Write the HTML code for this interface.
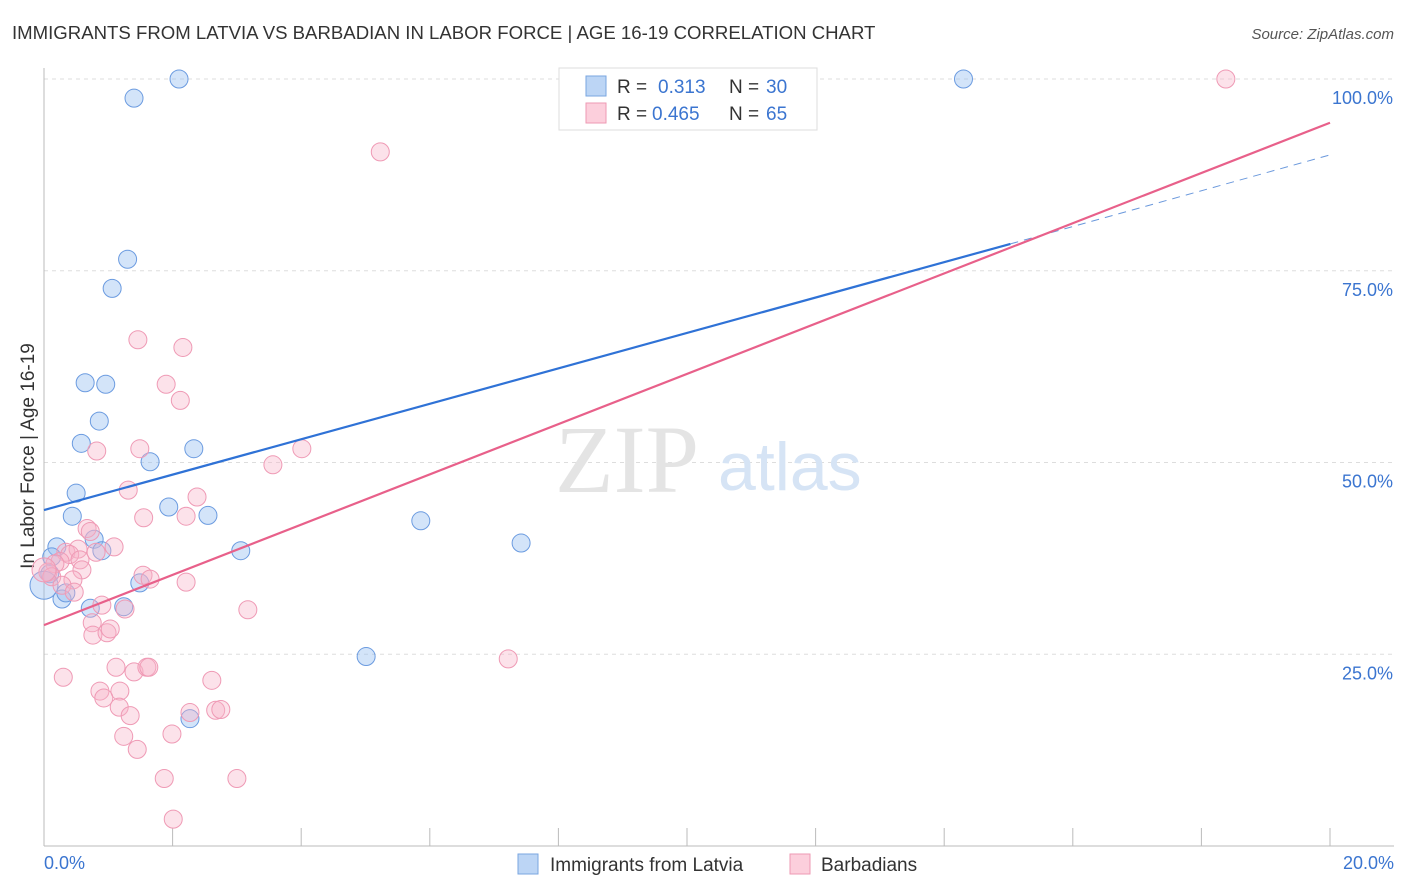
<!DOCTYPE html>
<html><head><meta charset="utf-8"><style>
body{margin:0;background:#fff;font-family:"Liberation Sans",sans-serif;}
svg{display:block}
</style></head><body>
<svg id="chart" width="1406" height="892" xmlns="http://www.w3.org/2000/svg">
<text x="12" y="39" font-size="18.6" fill="#333">IMMIGRANTS FROM LATVIA VS BARBADIAN IN LABOR FORCE | AGE 16-19 CORRELATION CHART</text>
<text x="1394" y="39" font-size="15" fill="#555" font-style="italic" text-anchor="end">Source: ZipAtlas.com</text>
<g id="grid"></g>
<text x="555" y="492" font-size="96" fill="#e4e4e4" font-family="Liberation Serif,serif">ZIP</text>
<text x="718" y="490" font-size="68" fill="#d6e4f5">atlas</text>
<line x1="44" y1="68" x2="44" y2="846" stroke="#bbb"/>
<line x1="44" y1="846" x2="1394" y2="846" stroke="#bbb"/>
<g id="xticks"></g>
<g id="yticks"></g>
<text x="44" y="869" font-size="18" fill="#3b75d0">0.0%</text>
<text x="1394" y="869" font-size="18" fill="#3b75d0" text-anchor="end">20.0%</text>
<text transform="translate(34,456) rotate(-90)" font-size="19" fill="#333" text-anchor="middle">In Labor Force | Age 16-19</text>
<g id="pts"></g>
<g id="lines"></g>
<g>
<rect x="559" y="68" width="258" height="62" fill="#fff" stroke="#ddd"/>
<rect x="586" y="76" width="20" height="20" fill="#bcd5f5" stroke="#7aa6e0"/>
<text x="617" y="93" font-size="19" fill="#333">R = </text><text x="658" y="93" font-size="19" fill="#3b75d0">0.313</text>
<text x="729" y="93" font-size="19" fill="#333">N = </text><text x="766" y="93" font-size="19" fill="#3b75d0">30</text>
<rect x="586" y="103" width="20" height="20" fill="#fccfdc" stroke="#ee9ab3"/>
<text x="617" y="120" font-size="19" fill="#333">R = </text><text x="652" y="120" font-size="19" fill="#3b75d0">0.465</text>
<text x="729" y="120" font-size="19" fill="#333">N = </text><text x="766" y="120" font-size="19" fill="#3b75d0">65</text>
</g>
<g>
<rect x="518" y="854" width="20" height="20" fill="#bcd5f5" stroke="#7aa6e0"/>
<text x="550" y="871" font-size="19" fill="#333">Immigrants from Latvia</text>
<rect x="790" y="854" width="20" height="20" fill="#fccfdc" stroke="#ee9ab3"/>
<text x="821" y="871" font-size="19" fill="#333">Barbadians</text>
</g>
</svg>
<script>
const blueX=[2.1,14.3,1.4,1.3,1.06,0.64,0.96,0.86,0.58,1.65,2.33,0.5,1.94,0.44,2.55,0.78,0.9,3.06,0.2,0.12,0.09,1.49,0.28,0.34,0.72,1.24,5.86,7.42,5.01,2.27,0.0];
const blueY=[100,100,97.5,76.5,72.7,60.4,60.2,55.4,52.5,50.1,51.8,46.0,44.2,43.0,43.1,40.0,38.5,38.5,39.0,37.7,35.5,34.3,32.2,33.0,31.0,31.2,42.4,39.5,24.7,16.6,34.0];
const pinkX=[18.38,5.23,1.46,2.16,1.9,2.12,1.49,0.82,4.01,3.56,1.31,2.38,1.55,2.21,0.67,0.72,1.09,0.34,0.53,0.4,0.81,0.56,0.59,0.25,0.17,0.06,0.12,0.45,0.28,0.47,1.54,1.65,2.21,0.9,1.26,0.75,0.76,0.98,1.03,3.17,7.22,0.3,1.12,1.4,1.6,1.63,2.61,0.87,1.18,0.93,1.17,1.34,2.67,2.75,2.27,1.24,1.45,1.99,1.87,3.0,2.01,0.0];
const pinkY=[100,90.5,66.0,65.0,60.2,58.1,51.8,51.5,51.8,49.7,46.4,45.5,42.8,43.0,41.4,41.0,39.0,38.3,38.7,38.0,38.3,37.3,36.0,37.1,36.8,35.7,35.1,34.7,34.0,33.1,35.3,34.8,34.4,31.4,30.9,29.1,27.5,27.8,28.3,30.8,24.4,22.0,23.3,22.7,23.3,23.3,21.6,20.2,20.2,19.3,18.1,17.0,17.7,17.8,17.4,14.3,12.6,14.6,8.8,8.8,3.5,36.0];
const blueLine=[[0,43.8],[15.03,78.5]];
const blueDash=[[15.03,78.5],[20,90.1]];
const pinkLine=[[0,28.8],[20,94.3]];
const yTicks=[25,50,75,100];
const yTickLabels=["25.0%","50.0%","75.0%","100.0%"];
const xTicks=[2,4,6,8,10,12,14,16,18,20];
</script>
<script>
const NS="http://www.w3.org/2000/svg";
const sx=v=>44+v/20*1286, sy=v=>846-v/100*767;
function mk(t,a,p){const e=document.createElementNS(NS,t);for(const k in a)e.setAttribute(k,a[k]);p.appendChild(e);return e;}
const grid=document.getElementById('grid'),yt=document.getElementById('yticks'),xt=document.getElementById('xticks');
yTicks.forEach((v,i)=>{
 const l=mk('line',{x1:44,x2:1394,y1:sy(v),y2:sy(v),stroke:'#ddd','stroke-dasharray':'4,4'},grid);
 
 
 const t=mk('text',{x:1393,y:sy(v)+25,'font-size':18,fill:'#3b75d0','text-anchor':'end'},yt);
 t.textContent=yTickLabels[i];
 
 
});
xTicks.forEach(v=>{
 const l=mk('line',{x1:sx(v),x2:sx(v),y1:828,y2:846,stroke:'#bbb'},xt);
 
 
});
const pts=document.getElementById('pts');
blueX.forEach((x,i)=>{
 const c=mk('circle',{cx:sx(x),cy:sy(blueY[i]),r:i==blueX.length-1?14:9,fill:'rgba(150,190,240,0.42)',stroke:'#6b9be0','stroke-width':1},pts);
 
 
});
pinkX.forEach((x,i)=>{
 const c=mk('circle',{cx:sx(x),cy:sy(pinkY[i]),r:i==pinkX.length-1?12:9,fill:'rgba(248,180,200,0.38)',stroke:'#ef9ab5','stroke-width':1},pts);
 
 
});
const lines=document.getElementById('lines');
const b=mk('line',{x1:sx(blueLine[0][0]),y1:sy(blueLine[0][1]),x2:sx(blueLine[1][0]),y2:sy(blueLine[1][1]),stroke:'#2f72d6','stroke-width':2.2},lines);


const bd=mk('line',{x1:sx(blueDash[0][0]),y1:sy(blueDash[0][1]),x2:sx(blueDash[1][0]),y2:sy(blueDash[1][1]),stroke:'#6a98dc','stroke-width':1,'stroke-dasharray':'8,6'},lines);


const p=mk('line',{x1:sx(pinkLine[0][0]),y1:sy(pinkLine[0][1]),x2:sx(pinkLine[1][0]),y2:sy(pinkLine[1][1]),stroke:'#e8608a','stroke-width':2.2},lines);


</script>
</body></html>
